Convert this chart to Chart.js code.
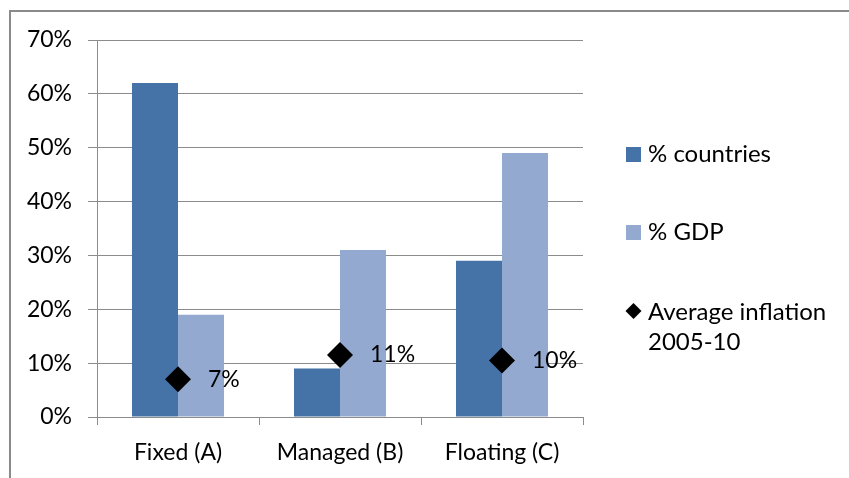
<!DOCTYPE html>
<html>
<head>
<meta charset="utf-8">
<script src="https://cdn.jsdelivr.net/npm/chart.js@4"></script>
<style>
  html, body { margin: 0; padding: 0; background: #fff; overflow: hidden; }
  #frame {
    position: absolute; left: 9px; top: 10px; width: 1000px; height: 600px;
    border-top: 2px solid #8a8a8a; border-left: 2px solid #8a8a8a;
  }
  #chart { position: absolute; left: 0; top: 0; }
</style>
</head>
<body>
<div id="frame"></div>
<canvas id="chart" width="849" height="478"></canvas>
<script>
const categories = ["Fixed (A)", "Managed (B)", "Floating (C)"];
const pctCountries = [62, 9, 29];
const pctGDP = [19, 31, 49];
const avgInflation = [7, 11.5, 10.5];
const inflationLabels = ["7%", "11%", "10%"];
const yTicks = [0, 10, 20, 30, 40, 50, 60, 70];

const FONT = "Lato, 'Open Sans', sans-serif";
const DARK = "#4572a7";
const LIGHT = "#93a9d0";
const GRID = "#8c8c8c";

// labels next to the diamonds
const pointLabels = {
    id: "pointLabels",
    afterDatasetsDraw(chart) {
        const meta = chart.getDatasetMeta(0);
        const ctx = chart.ctx;
        ctx.save();
        ctx.font = "23px " + FONT;
        ctx.fillStyle = "#000";
        ctx.textAlign = "left";
        ctx.textBaseline = "middle";
        meta.data.forEach((pt, i) => {
            ctx.fillText(inflationLabels[i], pt.x + 30, pt.y);
        });
        ctx.restore();
    }
};

// excel-like legend on the right
const sideLegend = {
    id: "sideLegend",
    afterDraw(chart) {
        const ctx = chart.ctx;
        const area = chart.chartArea;
        const x = area.right + 43;
        const tx = x + 22;
        ctx.save();
        ctx.font = "24px " + FONT;
        ctx.fillStyle = "#000";
        ctx.textBaseline = "middle";

        ctx.fillStyle = DARK;
        ctx.fillRect(x, area.top + 107, 15, 15);
        ctx.fillStyle = "#000";
        ctx.fillText("% countries", tx, area.top + 114);

        ctx.fillStyle = LIGHT;
        ctx.fillRect(x, area.top + 185, 15, 15);
        ctx.fillStyle = "#000";
        ctx.fillText("% GDP", tx, area.top + 192);

        const cx = x + 7.5, cy = area.top + 271;
        ctx.beginPath();
        ctx.moveTo(cx, cy - 8);
        ctx.lineTo(cx + 8, cy);
        ctx.lineTo(cx, cy + 8);
        ctx.lineTo(cx - 8, cy);
        ctx.closePath();
        ctx.fill();
        ctx.fillText("Average inflation", tx, area.top + 272);
        ctx.fillText("2005-10", tx, area.top + 302);
        ctx.restore();
    }
};

new Chart(document.getElementById("chart"), {
    type: "bar",
    data: {
        labels: categories,
        datasets: [
            {
                type: "line",
                label: "Average inflation 2005-10",
                data: avgInflation,
                showLine: false,
                pointStyle: "rectRot",
                pointRadius: 13,
                pointHoverRadius: 13,
                backgroundColor: "#000",
                borderColor: "#000",
                borderWidth: 0,
                order: 0
            },
            {
                label: "% countries",
                data: pctCountries,
                backgroundColor: DARK,
                categoryPercentage: 0.568,
                barPercentage: 1,
                order: 1
            },
            {
                label: "% GDP",
                data: pctGDP,
                backgroundColor: LIGHT,
                categoryPercentage: 0.568,
                barPercentage: 1,
                order: 1
            }
        ]
    },
    options: {
        responsive: false,
        animation: false,
        devicePixelRatio: 1,
        layout: { padding: { top: 40, right: 266, bottom: 0, left: 0 } },
        plugins: {
            legend: { display: false },
            tooltip: { enabled: false }
        },
        scales: {
            x: {
                afterFit(scale) { scale.height = 61; },
                grid: {
                    offset: true,
                    drawOnChartArea: false,
                    drawTicks: true,
                    tickLength: 8,
                    color: GRID
                },
                border: { display: true, color: GRID, width: 1 },
                ticks: {
                    color: "#000",
                    padding: 14,
                    font: { family: FONT, size: 23 },
                    maxRotation: 0
                }
            },
            y: {
                min: 0,
                max: 70,
                afterFit(scale) { scale.width = 97; },
                afterBuildTicks(scale) {
                    scale.ticks = yTicks.map(v => ({ value: v }));
                },
                grid: {
                    color: GRID,
                    tickLength: 9,
                    drawTicks: true
                },
                border: { display: true, color: GRID, width: 1 },
                ticks: {
                    color: "#000",
                    padding: 16,
                    font: { family: FONT, size: 23 },
                    callback: v => v + "%"
                }
            }
        }
    },
    plugins: [pointLabels, sideLegend]
});
</script>
</body>
</html>
